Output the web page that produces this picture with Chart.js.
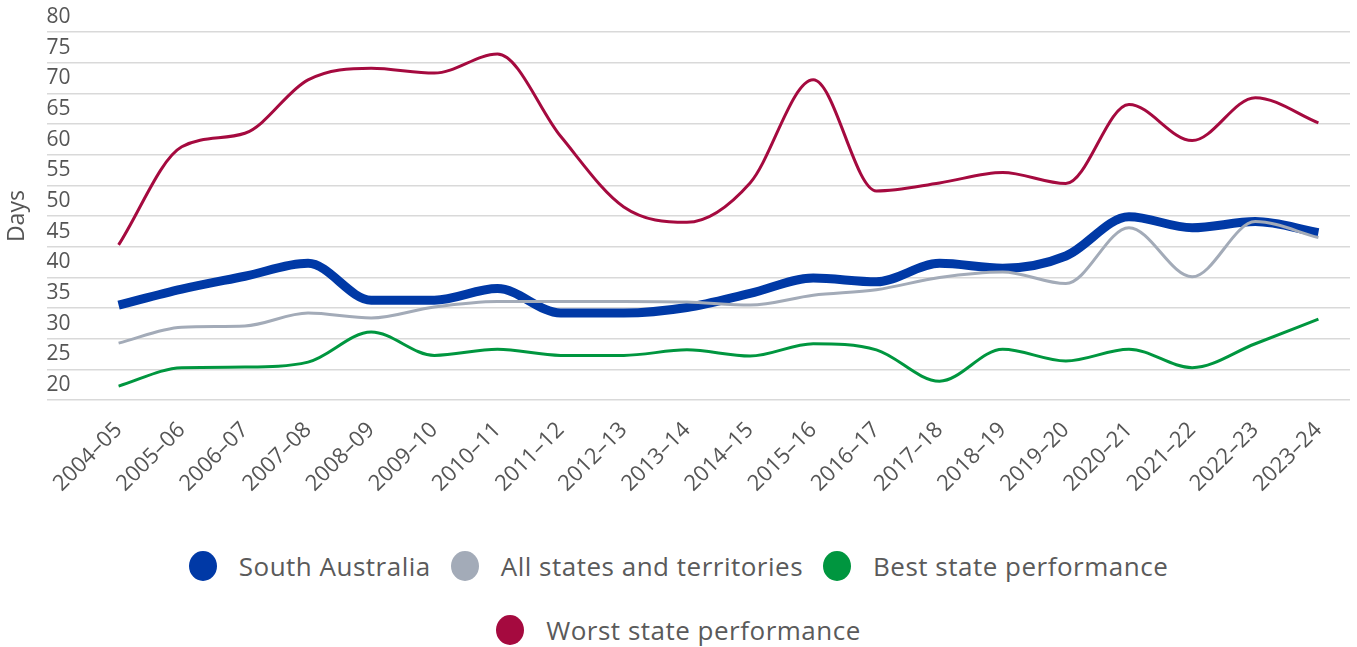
<!DOCTYPE html>
<html>
<head>
<meta charset="utf-8">
<script src="https://cdn.jsdelivr.net/npm/chart.js@4"></script>
<style>
  html, body { margin: 0; padding: 0; background: #fff; }
  #wrap { position: relative; width: 1357px; height: 647px; }
  #chartBox { position: absolute; left: 0; top: 0; width: 1357px; height: 512px; }
  #legend {
    position: absolute; left: 0; top: 534px; width: 1357px;
    display: flex; flex-wrap: wrap; justify-content: center;
    font-family: "Open Sans", sans-serif; font-size: 26px; letter-spacing: 0.5px; color: #5a5a5a;
  }
  #legend .row { width: 100%; display: flex; justify-content: center; height: 64px; align-items: center; }
  #legend .item { display: flex; align-items: center; margin: 0 10px; }
  #legend .dot { width: 28px; height: 30px; border-radius: 50%; margin-right: 22px; }
</style>
</head>
<body>
<div id="wrap">
  <div id="chartBox"><canvas id="chart"></canvas></div>
  <div id="legend"></div>
</div>
<script>
// data
const categories = ['2004–05', '2005–06', '2006–07', '2007–08', '2008–09', '2009–10', '2010–11',
  '2011–12', '2012–13', '2013–14', '2014–15', '2015–16', '2016–17', '2017–18', '2018–19',
  '2019–20', '2020–21', '2021–22', '2022–23', '2023–24'];

const southAustralia = [35.5, 38.1, 40.2, 42.3, 36.3, 36.3, 38.2, 34.2, 34.2, 35.1,
  37.4, 39.9, 39.3, 42.3, 41.5, 43.5, 49.9, 48.1, 49.1, 47.3];
const allStates = [29.3, 31.9, 32.1, 34.2, 33.4, 35.2, 36.1, 36.1, 36.1, 36.0,
  35.5, 37.1, 38.0, 40.0, 40.9, 39.0, 48.1, 40.1, 49.1, 46.5];
const bestState = [22.3, 25.3, 25.4, 26.2, 31.1, 27.3, 28.3, 27.3, 27.3, 28.2,
  27.2, 29.2, 28.2, 23.1, 28.3, 26.4, 28.3, 25.3, 29.2, 33.2];
const worstState = [45.3, 61.3, 63.5, 72.2, 74.1, 73.3, 76.4, 63.0, 51.5, 49.0,
  55.4, 72.2, 54.1, 55.4, 57.1, 55.3, 68.2, 62.3, 69.3, 65.2];

const yMin = 20, yMax = 80, yStep = 5;

const seriesNames = ['South Australia', 'All states and territories', 'Best state performance', 'Worst state performance'];
const seriesColors = ['#0039a6', '#a3abb8', '#00963f', '#a50a3f'];

const toPoints = arr => arr.map((v, i) => ({ x: i, y: v }));

const ctx = document.getElementById('chart').getContext('2d');
const chart = new Chart(ctx, {
  type: 'line',
  data: {
    datasets: [
      { label: seriesNames[0], data: toPoints(southAustralia), borderColor: seriesColors[0], borderWidth: 9, order: 1 },
      { label: seriesNames[1], data: toPoints(allStates), borderColor: seriesColors[1], borderWidth: 3, order: 0 },
      { label: seriesNames[2], data: toPoints(bestState), borderColor: seriesColors[2], borderWidth: 3, order: 1 },
      { label: seriesNames[3], data: toPoints(worstState), borderColor: seriesColors[3], borderWidth: 3, order: 1 }
    ]
  },
  options: {
    responsive: true,
    maintainAspectRatio: false,
    animation: false,
    layout: { padding: { left: 4, right: 7, top: 32, bottom: 6 } },
    elements: {
      point: { radius: 0 },
      line: { cubicInterpolationMode: 'monotone', borderCapStyle: 'butt' }
    },
    plugins: {
      legend: { display: false },
      tooltip: { enabled: false }
    },
    scales: {
      x: {
        type: 'linear',
        min: -1.14,
        max: 19.5,
        grid: { display: false },
        border: { display: false },
        afterBuildTicks: scale => { scale.ticks = categories.map((c, i) => ({ value: i })); },
        ticks: {
          autoSkip: false,
          minRotation: 45,
          maxRotation: 45,
          padding: 9,
          color: '#555',
          font: { family: 'Open Sans', size: 22 },
          callback: value => categories[value]
        }
      },
      y: {
        min: yMin,
        max: yMax,
        border: { display: false },
        grid: { color: '#d9d9d9', lineWidth: 1.5, drawTicks: false },
        title: {
          display: true,
          text: 'Days',
          color: '#555',
          padding: { top: 0, bottom: 15 },
          font: { family: 'Open Sans', size: 23 }
        },
        ticks: {
          stepSize: yStep,
          mirror: true,
          padding: 0,
          labelOffset: -15,
          color: '#555',
          font: { family: 'Open Sans', size: 21 }
        }
      }
    }
  }
});

// legend drawn as html, two rows like the original
const legendEl = document.getElementById('legend');
const rows = [[0, 1, 2], [3]];
rows.forEach(r => {
  const row = document.createElement('div');
  row.className = 'row';
  r.forEach(i => {
    const ds = chart.data.datasets[i];
    const item = document.createElement('div');
    item.className = 'item';
    item.innerHTML = '<span class="dot" style="background:' + ds.borderColor + '"></span><span>' + ds.label + '</span>';
    row.appendChild(item);
  });
  legendEl.appendChild(row);
});
</script>
</body>
</html>
